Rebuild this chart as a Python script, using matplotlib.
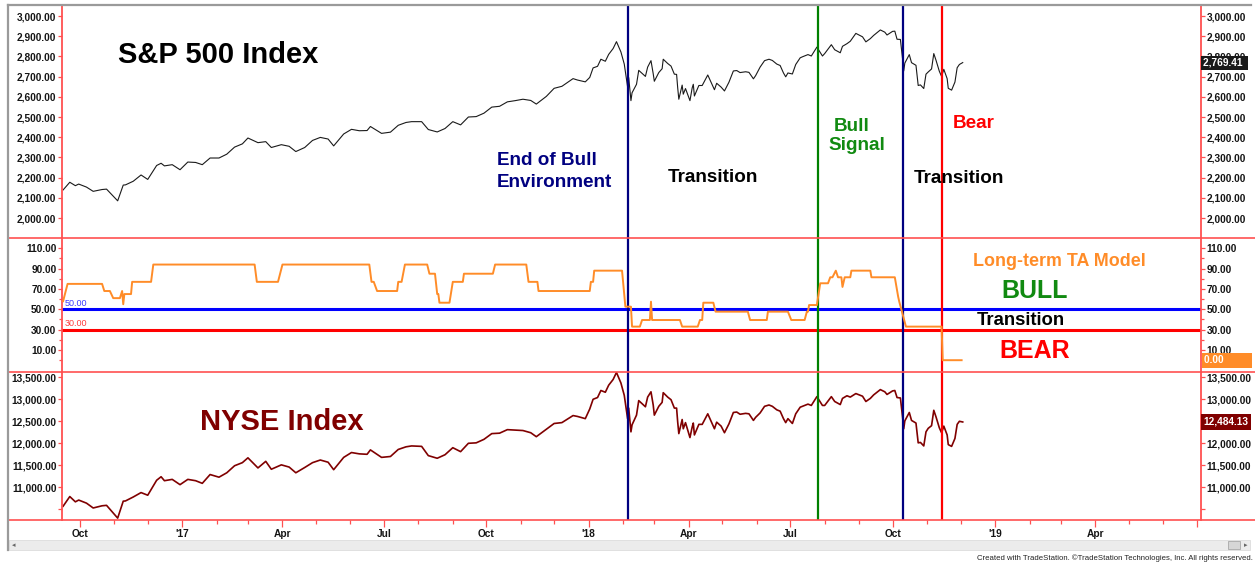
import pandas as pd
import matplotlib
matplotlib.use("Agg")
import matplotlib.pyplot as plt
import matplotlib.dates as mdates
from matplotlib.ticker import FuncFormatter, FixedLocator
from matplotlib.lines import Line2D
from matplotlib.patches import Rectangle

plt.rcParams['font.family'] = ['Liberation Sans', 'DejaVu Sans']

W, H = 1255, 564

# Datos (cierres aproximados)
sp_dates = [
    # 2016
    '2016-09-16', '2016-09-22', '2016-09-27', '2016-09-30', '2016-10-07', '2016-10-13', '2016-10-21',
    '2016-10-25', '2016-11-04', '2016-11-09', '2016-11-11', '2016-11-18', '2016-11-25', '2016-12-01',
    '2016-12-09', '2016-12-13', '2016-12-16', '2016-12-23', '2016-12-30',
    # 2017
    '2017-01-06', '2017-01-13', '2017-01-19', '2017-01-26',
    '2017-02-03', '2017-02-10', '2017-02-17', '2017-02-24',
    '2017-03-01', '2017-03-10', '2017-03-17', '2017-03-22', '2017-03-31',
    '2017-04-07', '2017-04-13', '2017-04-21', '2017-04-28',
    '2017-05-05', '2017-05-12', '2017-05-17', '2017-05-26',
    '2017-06-02', '2017-06-09', '2017-06-16', '2017-06-19', '2017-06-29',
    '2017-07-07', '2017-07-14', '2017-07-21', '2017-07-26',
    '2017-08-04', '2017-08-10', '2017-08-18', '2017-08-25',
    '2017-09-01', '2017-09-08', '2017-09-15', '2017-09-22', '2017-09-29',
    '2017-10-06', '2017-10-13', '2017-10-20', '2017-10-27',
    '2017-11-03', '2017-11-10', '2017-11-15', '2017-11-24',
    '2017-12-01', '2017-12-08', '2017-12-18', '2017-12-22', '2017-12-29',
    # 2018
    '2018-01-02', '2018-01-05', '2018-01-09', '2018-01-12', '2018-01-16', '2018-01-19', '2018-01-23', '2018-01-26', '2018-01-30',
    '2018-02-02', '2018-02-05', '2018-02-06', '2018-02-08', '2018-02-09', '2018-02-13', '2018-02-15', '2018-02-21', '2018-02-23', '2018-02-26', '2018-02-28',
    '2018-03-01', '2018-03-05', '2018-03-08', '2018-03-09', '2018-03-13', '2018-03-16', '2018-03-19', '2018-03-21', '2018-03-22', '2018-03-23', '2018-03-26', '2018-03-27', '2018-03-29',
    '2018-04-02', '2018-04-04', '2018-04-05', '2018-04-06', '2018-04-10', '2018-04-13', '2018-04-18', '2018-04-24', '2018-04-26', '2018-04-30',
    '2018-05-03', '2018-05-07', '2018-05-11', '2018-05-14', '2018-05-17', '2018-05-22', '2018-05-25', '2018-05-29', '2018-05-31',
    '2018-06-04', '2018-06-08', '2018-06-12', '2018-06-15', '2018-06-19', '2018-06-22', '2018-06-25', '2018-06-27', '2018-06-29',
    '2018-07-03', '2018-07-06', '2018-07-10', '2018-07-12', '2018-07-17', '2018-07-20', '2018-07-25', '2018-07-30',
    '2018-08-01', '2018-08-07', '2018-08-10', '2018-08-15', '2018-08-17', '2018-08-21', '2018-08-24', '2018-08-29',
    '2018-09-04', '2018-09-07', '2018-09-11', '2018-09-14', '2018-09-20', '2018-09-24', '2018-09-26',
    '2018-10-01', '2018-10-03', '2018-10-05', '2018-10-08', '2018-10-10', '2018-10-11', '2018-10-12', '2018-10-16', '2018-10-18', '2018-10-22', '2018-10-24', '2018-10-26', '2018-10-29', '2018-10-31',
    '2018-11-02', '2018-11-05', '2018-11-07', '2018-11-09', '2018-11-12', '2018-11-14', '2018-11-16', '2018-11-19', '2018-11-20', '2018-11-23', '2018-11-26', '2018-11-28', '2018-11-30',
    '2018-12-03',
]

sp_close = [
    2139, 2177, 2160, 2168, 2153, 2132, 2141, 2143, 2085, 2163, 2164, 2182, 2213, 2191, 2260, 2271, 2258, 2264, 2239,
    2277, 2275, 2264, 2297,
    2297, 2316, 2351, 2367,
    2396, 2373, 2378, 2349, 2363,
    2355, 2329, 2349, 2384,
    2399, 2391, 2357, 2416,
    2439, 2432, 2433, 2453, 2419,
    2425, 2459, 2473, 2477,
    2477, 2438, 2426, 2443,
    2477, 2461, 2500, 2502, 2519,
    2549, 2553, 2575, 2581,
    2588, 2582, 2564, 2602,
    2642, 2652, 2690, 2683, 2674,
    2696, 2743, 2751, 2786, 2776, 2810, 2839, 2873, 2822,
    2762, 2649, 2695, 2581, 2620, 2662, 2731, 2701, 2747, 2779, 2714,
    2677, 2720, 2739, 2786, 2765, 2752, 2712, 2711, 2644, 2588, 2658, 2613, 2641,
    2581, 2644, 2662, 2604, 2656, 2656, 2708, 2635, 2667, 2648,
    2629, 2672, 2728, 2730, 2720, 2724, 2721, 2689, 2705,
    2747, 2779, 2786, 2780, 2762, 2755, 2718, 2699, 2718,
    2713, 2760, 2793, 2798, 2809, 2802, 2846, 2802,
    2814, 2858, 2833, 2818, 2850, 2863, 2875, 2914,
    2897, 2872, 2888, 2904, 2931, 2920, 2906,
    2924, 2925, 2885, 2884, 2786, 2728, 2767, 2809, 2769, 2756, 2656, 2659, 2641, 2712,
    2723, 2738, 2814, 2781, 2726, 2701, 2736, 2690, 2642, 2633, 2673, 2744, 2760,
    2769.41,
]

nyse_close = [
    10570, 10790, 10670, 10710, 10640, 10530, 10580, 10590, 10300, 10685, 10690, 10780, 10880, 10820, 11160, 11240, 11150, 11180, 11060,
    11180, 11150, 11090, 11290,
    11230, 11330, 11490, 11560,
    11670, 11440, 11590, 11410, 11510,
    11460, 11330, 11450, 11560,
    11620, 11570, 11400, 11680,
    11790, 11760, 11750, 11850, 11680,
    11700, 11860, 11920, 11940,
    11930, 11720, 11660, 11740,
    11900, 11810, 12000, 12010, 12090,
    12220, 12230, 12310, 12300,
    12290, 12240, 12150, 12320,
    12450, 12470, 12630, 12610, 12560,
    12780, 13000, 13040, 13200, 13160, 13320, 13450, 13610, 13370,
    13090, 12560, 12800, 12260, 12420, 12640, 12970, 12830, 13050, 13170, 12870,
    12640, 12840, 12930, 13150, 13050, 12990, 12800, 12800, 12480, 12220, 12540, 12330, 12470,
    12130, 12370, 12460, 12190, 12430, 12430, 12670, 12330, 12480, 12390,
    12240, 12440, 12700, 12710, 12660, 12680, 12670, 12520, 12590,
    12690, 12840, 12870, 12840, 12760, 12730, 12560, 12470, 12560,
    12450, 12670, 12820, 12840, 12890, 12860, 13060, 12860,
    12860, 13060, 12950, 12880, 13020, 13080, 13050, 13130,
    13070, 12950, 13020, 13100, 13220, 13170, 13110,
    13190, 13200, 13040, 13030, 12590, 12330, 12510, 12700, 12520, 12460, 12010, 12020, 11940, 12260,
    12340, 12400, 12750, 12600, 12350, 12240, 12390, 12190, 11970, 11930, 12110, 12430, 12500,
    12484.13,
]

model_dates = [
    '2016-09-16', '2016-09-20', '2016-10-21', '2016-10-23', '2016-10-28', '2016-10-31', '2016-11-06',
    '2016-11-08', '2016-11-09', '2016-11-10', '2016-11-16', '2016-11-17', '2016-12-04', '2016-12-06',
    '2017-03-07', '2017-03-09', '2017-03-28', '2017-04-01', '2017-06-18', '2017-06-20', '2017-06-22',
    '2017-06-25', '2017-07-13', '2017-07-14', '2017-07-17', '2017-07-20', '2017-08-09', '2017-08-11',
    '2017-08-16', '2017-08-18', '2017-08-19', '2017-08-20', '2017-08-29', '2017-09-01', '2017-09-10',
    '2017-09-11', '2017-10-07', '2017-10-09', '2017-11-06', '2017-11-08', '2017-11-16', '2017-11-17',
    '2018-01-02', '2018-01-03', '2018-01-05', '2018-01-06', '2018-01-31', '2018-02-03', '2018-02-08',
    '2018-02-09', '2018-02-16', '2018-02-18', '2018-02-25', '2018-02-26', '2018-02-27', '2018-03-24',
    '2018-03-26', '2018-04-09', '2018-04-11', '2018-04-13', '2018-04-14', '2018-04-23', '2018-04-25',
    '2018-05-24', '2018-05-26', '2018-06-10', '2018-06-11', '2018-06-29', '2018-07-02', '2018-07-14',
    '2018-07-16', '2018-07-17', '2018-07-18', '2018-07-25', '2018-07-28', '2018-08-04', '2018-08-06',
    '2018-08-08', '2018-08-11', '2018-08-13', '2018-08-16', '2018-08-17', '2018-08-19', '2018-08-24',
    '2018-08-25', '2018-09-11', '2018-09-12', '2018-10-03', '2018-10-06', '2018-10-07', '2018-10-13',
    '2018-11-14', '2018-11-15', '2018-12-02',
]

model_values = [
    58, 75, 75, 68, 68, 61, 61,
    68, 55, 65, 65, 77, 77, 94,
    94, 77, 77, 94, 94, 77, 77,
    68, 68, 77, 77, 94, 94, 85,
    85, 65, 65, 56.5, 56.5, 77, 77,
    85, 85, 94, 94, 77, 77, 68,
    68, 77, 77, 88, 88, 52.6, 52.6,
    33, 33, 39.5, 39.5, 57.5, 39.5, 39.5,
    33, 33, 39.5, 39.5, 56.5, 56.5, 47.7,
    47.7, 39.5, 39.5, 47.7, 47.7, 39.5, 39.5,
    47.7, 47.7, 54.2, 54.2, 75.6, 75.6, 81.5,
    81.5, 88, 81.5, 81.5, 72, 81.5, 81.5,
    88, 88, 81.5, 81.5, 62.4, 57.5, 33,
    33, 0, 0,
]

bull_level = 50
bear_level = 30

signal_dates = ['2018-02-05', '2018-07-26', '2018-10-10', '2018-11-14']
signal_colors = ['#000080', '#008000', '#000080', '#ff0000']

sp_x = pd.to_datetime(sp_dates)
model_x = pd.to_datetime(model_dates)

RED = '#ff5050'
LBL = '#151515'


def fx(x):
    return x / W


def fy(y):
    return 1 - y / H


fig = plt.figure(figsize=(W / 100, H / 100), dpi=100)
fig.patch.set_facecolor('white')

ax1 = fig.add_axes([fx(62), fy(238), 1139 / W, 233 / H])
ax2 = fig.add_axes([fx(62), fy(372), 1139 / W, 134 / H], sharex=ax1)
ax3 = fig.add_axes([fx(62), fy(520), 1139 / W, 148 / H], sharex=ax1)

money = FuncFormatter(lambda v, p: f"{v:,.2f}")

for ax in (ax1, ax2, ax3):
    for s in ('top', 'bottom'):
        ax.spines[s].set_visible(False)
    for s in ('left', 'right'):
        ax.spines[s].set_color(RED)
        ax.spines[s].set_linewidth(1.3)
    ax.tick_params(axis='y', which='both', left=True, right=True, labelleft=True, labelright=True,
                   color=RED, labelcolor=LBL, labelsize=7.3, pad=1)
    ax.tick_params(axis='y', which='major', length=3, width=0.9)
    ax.tick_params(axis='y', which='minor', length=2, width=0.9)
    ax.yaxis.set_major_formatter(money)
    ax.set_facecolor('white')
    for d, c in zip(signal_dates, signal_colors):
        ax.axvline(pd.Timestamp(d), color=c, lw=1.6, zorder=3)

# S&P 500
ax1.plot(sp_x, sp_close, color='#1a1a1a', lw=0.8)
ax1.set_ylim(1901, 3054.5)
ax1.yaxis.set_major_locator(FixedLocator(list(range(2000, 3001, 100))))

# Modelo
ax2.plot(model_x, model_values, color='#ff8c28', lw=1.4, zorder=4)
ax2.axhline(bull_level, color='#0000ff', lw=2.2, zorder=2)
ax2.axhline(bear_level, color='#ff0000', lw=2.2, zorder=2)
ax2.set_ylim(-11.6, 120.1)
ax2.yaxis.set_major_locator(FixedLocator([10, 30, 50, 70, 90, 110]))
ax2.yaxis.set_minor_locator(FixedLocator([0, 20, 40, 60, 80, 100]))
ax2.text(0.002, bull_level + 1.2, f"{bull_level:.2f}", transform=ax2.get_yaxis_transform(),
         color='#3a3aff', fontsize=6.5, va='bottom', ha='left')
ax2.text(0.002, bear_level + 1.2, f"{bear_level:.2f}", transform=ax2.get_yaxis_transform(),
         color='#ff3a3a', fontsize=6.5, va='bottom', ha='left')

# NYSE
ax3.plot(sp_x, nyse_close, color='#800000', lw=1.2)
ax3.set_ylim(10257, 13620)
ax3.yaxis.set_major_locator(FixedLocator(list(range(10500, 13501, 500))))
ax3.yaxis.set_major_formatter(FuncFormatter(lambda v, p: '' if v < 10900 else f"{v:,.2f}"))
# la etiqueta derecha de 12,500 queda tapada por la bandera del ultimo valor
ax3.yaxis.get_major_ticks()[4].label2.set_visible(False)

# Eje X
ax1.set_xlim(pd.Timestamp('2016-09-15'), pd.Timestamp('2019-07-05'))
ax3.xaxis.set_major_locator(mdates.MonthLocator(bymonth=[1, 4, 7, 10]))
ax3.xaxis.set_minor_locator(mdates.MonthLocator())


def month_label(v, p):
    d = mdates.num2date(v)
    if d.year == 2019 and d.month > 5:
        return ''
    return f"'{d:%y}" if d.month == 1 else d.strftime('%b')


ax3.xaxis.set_major_formatter(FuncFormatter(month_label))
ax3.tick_params(axis='x', which='major', length=5, width=0.9, color=RED, labelcolor=LBL, labelsize=7.3, pad=1.5)
ax3.tick_params(axis='x', which='minor', length=3, width=0.9, color=RED)
for ax in (ax1, ax2):
    ax.tick_params(axis='x', which='both', bottom=False, labelbottom=False)

for ax in (ax1, ax2, ax3):
    for lab in ax.get_yticklabels() + ax.get_xticklabels():
        lab.set_fontweight('bold')

# Etiquetas de ultimo valor
flag_kw = dict(fontsize=7.3, fontweight='bold', color='white', va='center', ha='left', zorder=20)
ax1.text(1.002, sp_close[-1], f"{sp_close[-1]:,.2f} ", transform=ax1.get_yaxis_transform(),
         bbox=dict(boxstyle='square,pad=0.2', fc='#1a1a1a', ec='none'), **flag_kw)
ax2.text(1.003, model_values[-1], f"{model_values[-1]:.2f}         ", transform=ax2.get_yaxis_transform(),
         bbox=dict(boxstyle='square,pad=0.25', fc='#ff8c28', ec='none'), **flag_kw)
ax3.text(1.002, nyse_close[-1], f"{nyse_close[-1]:,.2f}", transform=ax3.get_yaxis_transform(),
         bbox=dict(boxstyle='square,pad=0.25', fc='#800000', ec='none'), **flag_kw)

# Marco, divisiones y barra inferior
for y in (238, 372, 520):
    fig.add_artist(Line2D([fx(8), fx(1255)], [fy(y), fy(y)], color=RED, lw=1.2))
fig.add_artist(Line2D([fx(8), fx(1251)], [fy(5), fy(5)], color='#9a9a9a', lw=1.6))
fig.add_artist(Line2D([fx(8), fx(8)], [fy(5), fy(550)], color='#9a9a9a', lw=1.6))
fig.add_artist(Rectangle((fx(9), fy(550)), fx(1241), 10 / H, fc='#ececec', ec='#dcdcdc', lw=0.6))
fig.add_artist(Rectangle((fx(1228), fy(549)), fx(12), 8 / H, fc='#d6d6d6', ec='#a8a8a8', lw=0.6))
fig.text(fx(14), fy(545), '\u25c2', fontsize=5, color='#666666', ha='center', va='center', family='DejaVu Sans')
fig.text(fx(1246), fy(545), '\u25b8', fontsize=5, color='#666666', ha='center', va='center', family='DejaVu Sans')
fig.text(fx(1253), fy(558), 'Created with TradeStation. \u00a9TradeStation Technologies, Inc. All rights reserved.',
         fontsize=5.6, color='#222222', ha='right', va='center')

# Anotaciones
notes = [
    (118, 63, 'S&P 500 Index', '#000000', 21),
    (200, 430, 'NYSE Index', '#800000', 21),
    (497, 165, 'End of Bull', '#000080', 13.6),
    (497, 187, 'Environment', '#000080', 13.6),
    (668, 181.5, 'Transition', '#000000', 13.6),
    (834, 131, 'Bull', '#118a11', 13.6),
    (828, 150, 'Signal', '#118a11', 13.6),
    (914, 183, 'Transition', '#000000', 13.6),
    (953, 128, 'Bear', '#ff0000', 13.6),
    (973, 266, 'Long-term TA Model', '#ff8c28', 12.9),
    (1001, 298, 'BULL', '#118a11', 18),
    (977, 325, 'Transition', '#000000', 13.3),
    (999, 358, 'BEAR', '#ff0000', 18),
]
for x, y, s, c, fs in notes:
    fig.text(fx(x), fy(y), s, color=c, fontsize=fs, fontweight='bold', ha='left', va='baseline', zorder=10)

fig.savefig('out.png', dpi=100, facecolor='white')
